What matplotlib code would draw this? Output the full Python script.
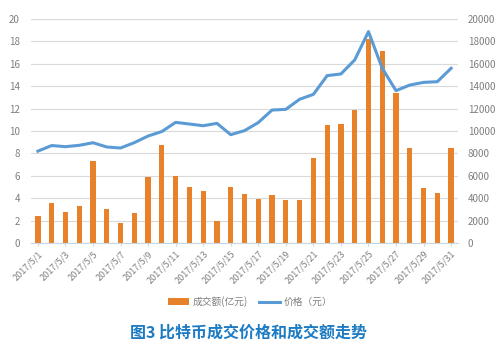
import matplotlib.pyplot as plt
import numpy as np

plt.rcParams['font.family'] = ['Noto Sans CJK SC', 'DejaVu Sans']

dates = ["2017/5/%d" % d for d in range(1, 32)]
volume = [2.4, 3.6, 2.8, 3.3, 7.3, 3.0, 1.8, 2.65, 5.85, 8.75,
          5.95, 5.0, 4.6, 2.0, 5.0, 4.35, 3.9, 4.25, 3.8, 3.85,
          7.6, 10.5, 10.6, 11.85, 18.2, 17.1, 13.4, 8.5, 4.9, 4.5, 8.5]
price = [8200, 8700, 8600, 8720, 8950, 8570, 8480, 8960, 9550, 9950,
         10770, 10620, 10470, 10680, 9670, 10030, 10750, 11870, 11930, 12830,
         13270, 14940, 15090, 16340, 18870, 15600, 13600, 14100, 14340, 14400, 15600]

bar_color = "#E8822A"
line_color = "#5B9BD5"
text_gray = "#7F7F7F"

fig = plt.figure(figsize=(5, 3.54), dpi=100)
ax = fig.add_axes([0.062, 0.3136, 0.854, 0.6328])
x = np.arange(len(dates))

ax.bar(x, volume, width=0.38, color=bar_color, zorder=2, label="成交额(亿元)")
ax.set_ylim(0, 20)
ax.set_yticks(range(0, 21, 2))
ax.set_xlim(-0.5, len(dates) - 0.5)
ax.grid(axis="y", color="#D9D9D9", linewidth=0.8, zorder=0)
ax.set_axisbelow(True)
for s in ["top", "right", "left"]:
    ax.spines[s].set_visible(False)
ax.spines["bottom"].set_color("#C9D6E3")
ax.spines["bottom"].set_linewidth(0.8)
ax.set_xticks(x[::2])
ax.set_xticklabels(dates[::2], rotation=45, ha="right", rotation_mode="anchor",
                   fontsize=6.5, color=text_gray)
ax.tick_params(axis="x", length=2.5, color="#C9D6E3", pad=2)
ax.tick_params(axis="y", length=0, labelsize=7, labelcolor=text_gray, pad=8)

ax2 = ax.twinx()
ax2.plot(x, price, color=line_color, linewidth=2.2, zorder=3, label="价格（元）")
ax2.set_ylim(0, 20000)
ax2.set_yticks(range(0, 20001, 2000))
for s in ax2.spines.values():
    s.set_visible(False)
ax2.tick_params(axis="y", length=0, labelsize=7, labelcolor=text_gray, pad=7)

h1, l1 = ax.get_legend_handles_labels()
h2, l2 = ax2.get_legend_handles_labels()
fig.legend(h1 + h2, l1 + l2, loc="center", bbox_to_anchor=(0.5, 0.148), ncol=2,
           frameon=False, fontsize=7, labelcolor=text_gray, handlelength=2.2,
           handletextpad=0.3, columnspacing=1.2)

fig.text(0.497, 0.06, "图3 比特币成交价格和成交额走势", ha="center", va="center",
         fontsize=11.5, fontweight="bold", color="#1C7BC3")

fig.savefig("out.png", dpi=100)
